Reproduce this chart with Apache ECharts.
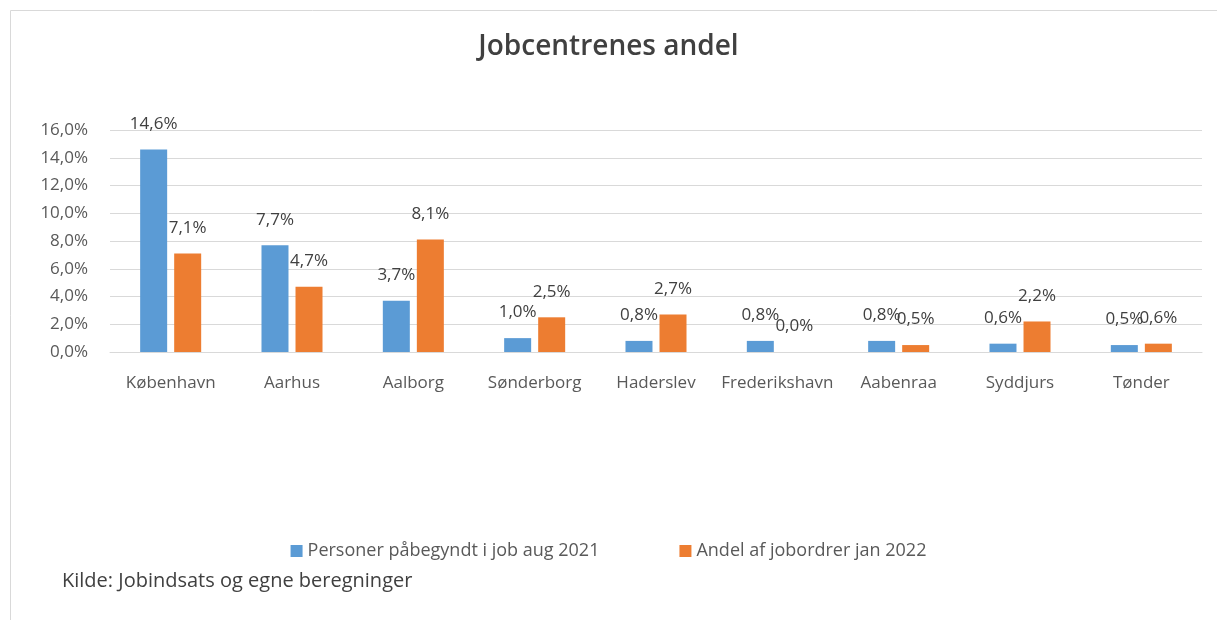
<!DOCTYPE html>
<html>
<head>
<meta charset="utf-8">
<script src="https://cdn.jsdelivr.net/npm/echarts@6/dist/echarts.min.js"></script>
<style>
  html, body { margin: 0; padding: 0; background: #fff; }
  #chart { width: 1217px; height: 620px; }
</style>
</head>
<body>
<div id="chart"></div>
<script>
// jobcentre
var categories = ['København', 'Aarhus', 'Aalborg', 'Sønderborg', 'Haderslev', 'Frederikshavn', 'Aabenraa', 'Syddjurs', 'Tønder'];
var personer = [14.6, 7.7, 3.7, 1.0, 0.8, 0.8, 0.8, 0.6, 0.5];
var jobordrer = [7.1, 4.7, 8.1, 2.5, 2.7, 0.0, 0.5, 2.2, 0.6];
var seriesNames = ['Personer påbegyndt i job aug 2021', 'Andel af jobordrer jan 2022'];

var font = 'Open Sans';
var pct = function (v) { return v.toFixed(1).replace('.', ',') + '%'; };

var chart = echarts.init(document.getElementById('chart'));

var barLabel = {
  show: true, position: 'top', distance: 17,
  fontFamily: font, fontSize: 17, color: '#404040',
  formatter: function (p) { return pct(p.value); }
};

chart.setOption({
  animation: false,
  color: ['#5b9bd5', '#ed7d31'],
  title: {
    text: 'Jobcentrenes andel',
    left: 'center',
    top: 28,
    textStyle: { fontFamily: font, fontSize: 28, fontWeight: 600, color: '#404040' }
  },
  graphic: [{
    type: 'rect',
    shape: { x: 10.5, y: 10.5, width: 1230, height: 640 },
    style: { fill: 'none', stroke: '#d9d9d9', lineWidth: 1 },
    silent: true
  }, {
    type: 'text',
    left: 62,
    top: 571,
    style: { text: 'Kilde: Jobindsats og egne beregninger', font: '20px "' + font + '"', fill: '#404040' }
  }],
  legend: {
    top: 537,
    left: 'center',
    itemWidth: 12,
    itemHeight: 12,
    itemGap: 80,
    icon: 'rect',
    textStyle: { fontFamily: font, fontSize: 18, color: '#595959' },
    data: seriesNames
  },
  grid: { left: 110, right: 15, top: 130, bottom: 268, containLabel: false },
  xAxis: {
    type: 'category',
    data: categories,
    axisLine: { lineStyle: { color: '#d9d9d9' } },
    axisTick: { show: false },
    axisLabel: { interval: 0, fontFamily: font, fontSize: 17, color: '#595959', margin: 23 }
  },
  yAxis: {
    type: 'value',
    min: 0,
    max: 16,
    interval: 2,
    axisLine: { show: false },
    axisTick: { show: false },
    splitLine: { lineStyle: { color: '#d9d9d9' } },
    axisLabel: { fontFamily: font, fontSize: 17, color: '#595959', margin: 22, formatter: pct }
  },
  series: [{
    name: seriesNames[0],
    type: 'bar',
    data: personer,
    barWidth: 27,
    barGap: '26%',
    label: barLabel
  }, {
    name: seriesNames[1],
    type: 'bar',
    data: jobordrer,
    barWidth: 27,
    label: barLabel
  }]
});
</script>
</body>
</html>
